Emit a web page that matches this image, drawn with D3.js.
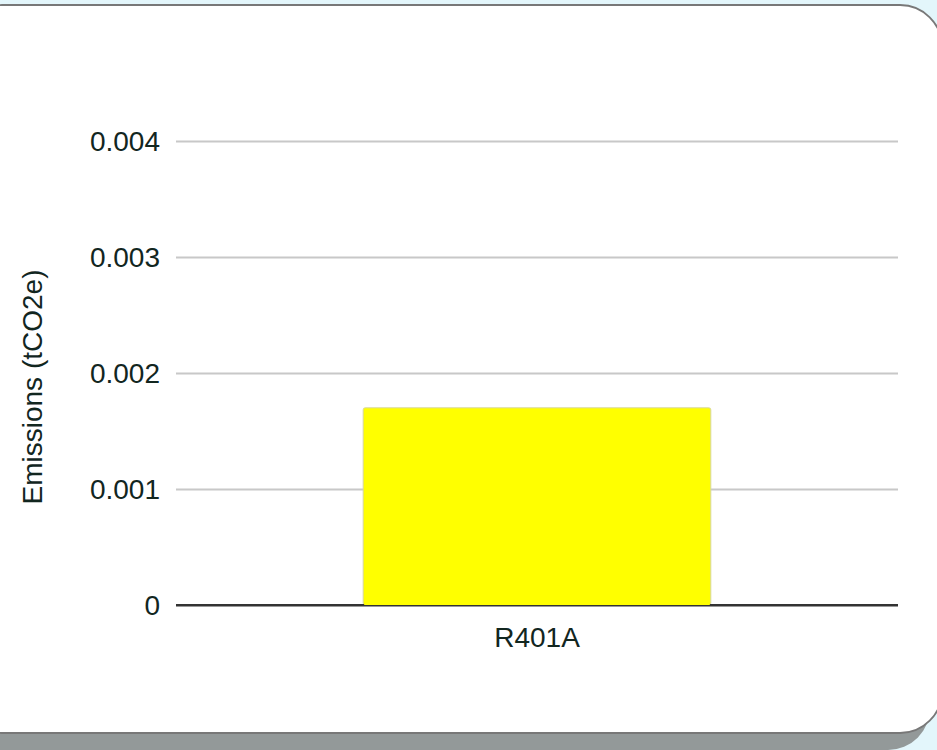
<!DOCTYPE html>
<html>
<head>
<meta charset="utf-8">
<script src="https://cdn.jsdelivr.net/npm/d3@7"></script>
<style>
  body { margin: 0; background: #e3f6fb; }
  text { font-family: "Liberation Sans", Arial, sans-serif; fill: #12261f; }
</style>
</head>
<body>
<div class="vis-holder"></div>
<script>
// data
var categories = ["R401A"];
var emissions = [0.0017];
var yTicks = [0, 0.001, 0.002, 0.003, 0.004];
var yTitle = "Emissions (tCO2e)";

var width = 937;
var height = 750;
var margin = { top: 141, bottom: 145, left: 176, right: 39 };

var mydata = categories.map(function(c, i) { return { name: c, value: emissions[i] }; });

var svg = d3.select(".vis-holder")
            .append("svg")
            .attr("width", width)
            .attr("height", height)
            .style("display", "block");

// card shadow and card
svg.append("rect")
   .attr("x", -40).attr("y", 22)
   .attr("width", 970).attr("height", 728)
   .attr("rx", 42)
   .attr("fill", "#939999");

svg.append("rect")
   .attr("x", -40).attr("y", 5)
   .attr("width", 982).attr("height", 728)
   .attr("rx", 42)
   .attr("fill", "#ffffff")
   .attr("stroke", "#787878")
   .attr("stroke-width", 1.8);

// scales
var xScale = d3.scaleBand()
               .domain(categories)
               .range([margin.left, width - margin.right])
               .padding(0.35);

var yScale = d3.scaleLinear()
               .domain([0, 0.004])
               .range([height - margin.bottom, margin.top]);

// gridlines
var grid = svg.append("g")
              .attr("transform", `translate(${margin.left}, 0)`)
              .call(d3.axisLeft(yScale)
                      .tickValues(yTicks)
                      .tickSize(-(width - margin.left - margin.right))
                      .tickFormat(""));
grid.select(".domain").remove();
grid.selectAll(".tick line")
    .attr("stroke", function(d) { return d === 0 ? "#333333" : "#c8c8c8"; })
    .attr("stroke-width", 2);

// y tick labels
var yAxis = svg.append("g")
               .attr("transform", `translate(${margin.left - 16}, 0)`)
               .call(d3.axisLeft(yScale)
                       .tickValues(yTicks)
                       .tickSize(0)
                       .tickPadding(0)
                       .tickFormat(function(d) { return d === 0 ? "0" : d3.format(".3f")(d); }));
yAxis.select(".domain").remove();
yAxis.selectAll("text")
     .style("font-size", "28px")
     .attr("dy", "0.35em");

// bars
svg.append("g")
   .selectAll("rect")
   .data(mydata)
   .enter()
   .append("rect")
   .attr("x", function(d) { return xScale(d.name); })
   .attr("y", function(d) { return yScale(d.value); })
   .attr("width", xScale.bandwidth())
   .attr("height", function(d) { return yScale(0) - yScale(d.value); })
   .attr("rx", 2)
   .attr("fill", "#ffff00")
   .attr("stroke", "#d8d8a0")
   .attr("stroke-width", 1);

// baseline
svg.append("line")
   .attr("x1", margin.left).attr("x2", width - margin.right)
   .attr("y1", yScale(0)).attr("y2", yScale(0))
   .attr("stroke", "#333333")
   .attr("stroke-width", 2);
svg.append("rect")
   .attr("x", xScale(categories[0]) + 1)
   .attr("y", yScale(0) - 1.5)
   .attr("width", xScale.bandwidth() - 2)
   .attr("height", 1.5)
   .attr("fill", "#ffff00");

// x axis labels
var xAxis = svg.append("g")
               .attr("transform", `translate(0, ${height - margin.bottom})`)
               .call(d3.axisBottom(xScale).tickSize(0).tickPadding(22));
xAxis.select(".domain").remove();
xAxis.selectAll("text")
     .style("font-size", "28px")
     .attr("dy", "0.71em");

// y axis title
svg.append("text")
   .attr("text-anchor", "middle")
   .attr("transform", "translate(42," + 387 + ")rotate(-90)")
   .style("font-size", "28px")
   .text(yTitle);
</script>
</body>
</html>
